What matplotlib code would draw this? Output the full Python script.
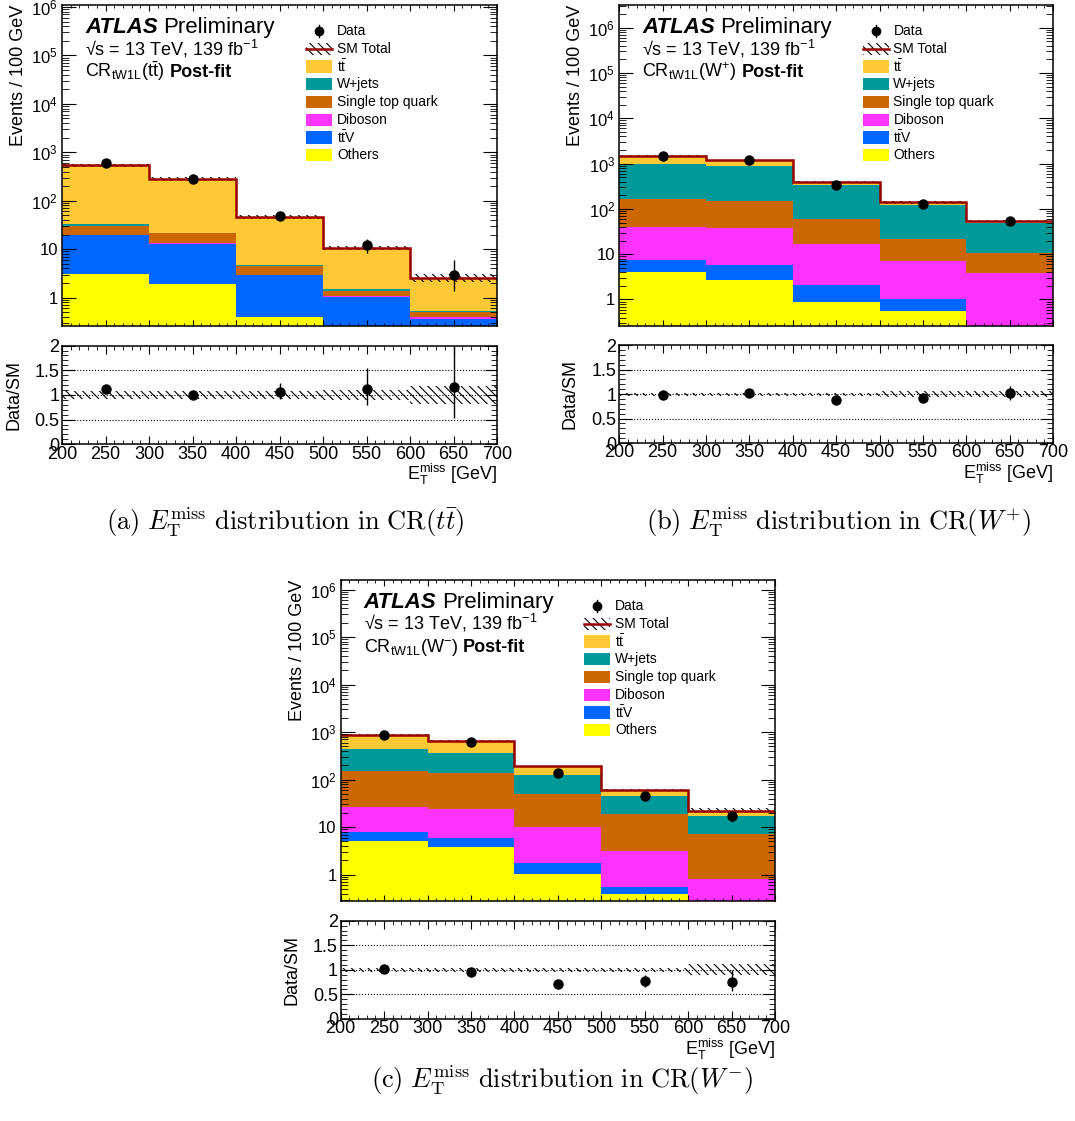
import math
import matplotlib
matplotlib.use("Agg")
import matplotlib.pyplot as plt
from matplotlib.patches import Rectangle
from matplotlib.ticker import LogLocator, MultipleLocator, FuncFormatter, NullFormatter

plt.rcParams['font.family'] = ['Liberation Sans', 'DejaVu Sans']
plt.rcParams['mathtext.fontset'] = 'custom'
plt.rcParams['mathtext.rm'] = 'Liberation Sans'
plt.rcParams['mathtext.it'] = 'Liberation Sans:italic'
plt.rcParams['mathtext.bf'] = 'Liberation Sans:bold'
plt.rcParams['hatch.linewidth'] = 0.8

# binning in MET (GeV)
met_edges = [200, 300, 400, 500, 600, 700]
met_centres = [250, 350, 450, 550, 650]

# CR(ttbar) post-fit yields
ttbar_tt = [505, 259, 41.2, 9.2, 2.06]
wjets_tt = [3.0, 0.7, 0.1, 0.13, 0.02]
singletop_tt = [10.3, 8.0, 1.65, 0.32, 0.12]
diboson_tt = [0.3, 0.2, 0.05, 0.03, 0.02]
ttv_tt = [16.7, 11.0, 2.5, 0.95, 0.27]
others_tt = [3.1, 1.92, 0.40, 0.10, 0.10]
data_tt = [600, 279, 49, 12, 3]
data_lo_tt = [24, 17, 7, 3.5, 1.6]
data_hi_tt = [25, 17, 8, 4.6, 3.0]
unc_tt = [0.085, 0.085, 0.085, 0.11, 0.18]

# CR(W+) post-fit yields
ttbar_wp = [477, 282, 50, 20, 5.2]
wjets_wp = [831, 750, 285, 97.8, 38.5]
singletop_wp = [129, 114, 41.8, 14.95, 6.95]
diboson_wp = [32.5, 33.0, 15.1, 6.25, 3.55]
ttv_wp = [3.4, 3.0, 1.2, 0.44, 0.10]
others_wp = [4.1, 2.7, 0.87, 0.56, 0.10]
data_wp = [1460, 1200, 344, 130, 55]
data_lo_wp = [38, 35, 18.5, 11.4, 7.4]
data_hi_wp = [39, 35, 19, 12, 8.4]
unc_wp = [0.03, 0.03, 0.03, 0.06, 0.06]

# CR(W-) post-fit yields
ttbar_wm = [428, 295, 64, 15.2, 5.4]
wjets_wm = [298, 228, 77, 25.6, 9.9]
singletop_wm = [123.6, 116, 40, 15.9, 6.3]
diboson_wm = [18.4, 18.0, 8.1, 2.56, 0.62]
ttv_wm = [2.9, 2.06, 0.72, 0.15, 0.10]
others_wm = [5.1, 3.8, 1.05, 0.39, 0.10]
data_wm = [888, 627, 137, 46, 17]
data_lo_wm = [30, 25, 11.7, 6.8, 4.1]
data_hi_wm = [31, 26, 12.7, 7.8, 5.2]
unc_wm = [0.04, 0.04, 0.04, 0.04, 0.11]

# legend labels / colours, top of the stack first
labels = ["t$\\bar{\\mathrm{t}}$", "W+jets", "Single top quark", "Diboson",
          "t$\\bar{\\mathrm{t}}$V", "Others"]
colours = ["#FFC935", "#009999", "#CC6600", "#FF33FF", "#0066FF", "#FFFF00"]
TOTAL_COLOUR = "#990000"


def log_label(v, pos):
    if v == 1:
        return "1"
    if v == 10:
        return "10"
    return "$10^{%d}$" % round(math.log10(v))


def text_run(ax, x, y, parts, gap=0.012):
    renderer = ax.figure.canvas.get_renderer()
    for s, kw in parts:
        t = ax.text(x, y, s, transform=ax.transAxes, va='baseline', ha='left', **kw)
        bb = t.get_window_extent(renderer=renderer)
        x = ax.transAxes.inverted().transform((bb.x1, bb.y0))[0] + gap


def draw_legend(ax):
    x0, x1, xt = 0.561, 0.621, 0.632
    top, step, h = 0.9190, 0.0553, 0.038
    # Data
    y = top
    ax.plot([(x0 + x1) / 2], [y], 'o', color='black', ms=6, transform=ax.transAxes)
    ax.plot([(x0 + x1) / 2] * 2, [y - h / 2, y + h / 2], color='black', lw=1,
            transform=ax.transAxes)
    ax.text(xt, y, "Data", transform=ax.transAxes, va='center', fontsize=10)
    # SM total
    y = top - step
    ax.add_patch(Rectangle((x0, y - h / 2), x1 - x0, h, transform=ax.transAxes,
                           facecolor='none', edgecolor='black', hatch='\\\\\\\\', lw=0))
    ax.plot([x0, x1], [y, y], color=TOTAL_COLOUR, lw=1.8, transform=ax.transAxes)
    ax.text(xt, y, "SM Total", transform=ax.transAxes, va='center', fontsize=10)
    for i, (lab, col) in enumerate(zip(labels, colours)):
        y = top - (i + 2) * step
        ax.add_patch(Rectangle((x0, y - h / 2), x1 - x0, h, transform=ax.transAxes,
                               facecolor=col, edgecolor='none'))
        ax.text(xt, y, lab, transform=ax.transAxes, va='center', fontsize=10)


def draw_panel(fig, main_rect, ratio_rect, stack, data, data_lo, data_hi, unc,
               ylim, region, ylab_x):
    ax = fig.add_axes(main_rect)
    rax = fig.add_axes(ratio_rect)

    # stack drawn from the bottom up
    base = [1e-3] * len(met_centres)
    for vals, col in zip(reversed(stack), reversed(colours)):
        top = [b + v for b, v in zip(base, vals)]
        ax.stairs(top, met_edges, baseline=base, fill=True, color=col, lw=0)
        base = top
    total = base

    lo = [t * (1 - u) for t, u in zip(total, unc)]
    hi = [t * (1 + u) for t, u in zip(total, unc)]
    ax.stairs(hi, met_edges, baseline=lo, fill=True, facecolor='none',
              edgecolor='black', hatch='\\\\\\\\', lw=0)
    ax.stairs(total, met_edges, baseline=None, color=TOTAL_COLOUR, lw=1.8)
    ax.errorbar(met_centres, data, yerr=[data_lo, data_hi], fmt='o', color='black',
                ms=6.5, elinewidth=1.0, capsize=0)

    ax.set_yscale('log')
    ax.set_xlim(200, 700)
    ax.set_ylim(*ylim)
    ax.yaxis.set_major_locator(LogLocator(base=10, numticks=20))
    ax.yaxis.set_minor_locator(LogLocator(base=10, subs=range(2, 10), numticks=20))
    ax.yaxis.set_major_formatter(FuncFormatter(log_label))
    ax.yaxis.set_minor_formatter(NullFormatter())
    ax.xaxis.set_major_locator(MultipleLocator(50))
    ax.xaxis.set_minor_locator(MultipleLocator(10))
    ax.tick_params(axis='x', labelbottom=False)
    ax.tick_params(which='both', direction='in', top=True, right=True)
    ax.tick_params(axis='y', which='major', length=10, labelsize=12, pad=3)
    ax.tick_params(axis='y', which='minor', length=5)
    ax.tick_params(axis='x', which='major', length=4.5)
    ax.tick_params(axis='x', which='minor', length=2.2)
    ax.set_ylabel("Events / 100 GeV", fontsize=13, loc='top')
    ax.yaxis.set_label_coords(ylab_x, 1.0)

    text_run(ax, 0.053, 0.913, [("ATLAS", dict(fontsize=16, fontweight='bold',
                                                 fontstyle='italic')),
                                ("Preliminary", dict(fontsize=16))], gap=0.012)
    ax.text(0.053, 0.844, "\u221as = 13 TeV, 139 fb$^{-1}$", transform=ax.transAxes,
            va='baseline', fontsize=13)
    text_run(ax, 0.053, 0.776, [("CR$_{\\mathrm{tW1L}}$(" + region + ")",
                                 dict(fontsize=13)),
                                ("Post-fit", dict(fontsize=13, fontweight='bold'))],
             gap=0.012)
    draw_legend(ax)

    # ratio panel
    ratio = [d / t for d, t in zip(data, total)]
    r_lo = [e / t for e, t in zip(data_lo, total)]
    r_hi = [e / t for e, t in zip(data_hi, total)]
    for v in (0.5, 1.0, 1.5):
        rax.axhline(v, ls=':', color='black', lw=0.8)
    rax.stairs([1 + u for u in unc], met_edges, baseline=[1 - u for u in unc],
               fill=True, facecolor='none', edgecolor='black', hatch='\\\\\\\\', lw=0)
    rax.errorbar(met_centres, ratio, yerr=[r_lo, r_hi], fmt='o', color='black',
                 ms=6.5, elinewidth=1.0, capsize=0)
    rax.set_xlim(200, 700)
    rax.set_ylim(0, 2)
    rax.yaxis.set_major_locator(MultipleLocator(0.5))
    rax.yaxis.set_minor_locator(MultipleLocator(0.1))
    rax.yaxis.set_major_formatter(FuncFormatter(lambda v, p: "%g" % v))
    rax.xaxis.set_major_locator(MultipleLocator(50))
    rax.xaxis.set_minor_locator(MultipleLocator(10))
    rax.tick_params(which='both', direction='in', top=True, right=True, labelsize=13)
    rax.tick_params(axis='y', which='major', length=9, pad=2)
    rax.tick_params(axis='y', which='minor', length=4.5)
    rax.tick_params(axis='x', which='major', length=6, pad=1)
    rax.tick_params(axis='x', which='minor', length=3)
    rax.set_ylabel("Data/SM", fontsize=13)
    rax.yaxis.set_label_coords(ylab_x - 0.012, 0.5)
    rax.set_xlabel("E$_{\\mathrm{T}}^{\\mathrm{miss}}$ [GeV]", fontsize=13, loc='right')
    rax.xaxis.set_label_coords(1.0, -0.18)

    for a in (ax, rax):
        for s in a.spines.values():
            s.set_linewidth(1.1)
    return ax, rax


fig = plt.figure(figsize=(10.75, 11.21), dpi=100)

draw_panel(fig, [0.0577, 0.7092, 0.4047, 0.2864], [0.0577, 0.6037, 0.4047, 0.0880],
           [ttbar_tt, wjets_tt, singletop_tt, diboson_tt, ttv_tt, others_tt],
           data_tt, data_lo_tt, data_hi_tt, unc_tt, (0.26, 1.1e6),
           "t$\\bar{\\mathrm{t}}$", -0.080)
draw_panel(fig, [0.5761, 0.7092, 0.4034, 0.2864], [0.5761, 0.6048, 0.4034, 0.0874],
           [ttbar_wp, wjets_wp, singletop_wp, diboson_wp, ttv_wp, others_wp],
           data_wp, data_lo_wp, data_hi_wp, unc_wp, (0.26, 3.2e6),
           "W$^{+}$", -0.081)
draw_panel(fig, [0.3169, 0.1963, 0.4040, 0.2864], [0.3169, 0.0910, 0.4040, 0.0877],
           [ttbar_wm, wjets_wm, singletop_wm, diboson_wm, ttv_wm, others_wm],
           data_wm, data_lo_wm, data_hi_wm, unc_wm, (0.28, 1.6e6),
           "W$^{-}$", -0.080)

captions = [
    (0.265, 0.5343, r"$\mathrm{(a)}\ E_{\mathrm{T}}^{\mathrm{miss}}\ \mathrm{distribution\ in\ CR}(t\bar{t})$"),
    (0.7795, 0.5343, r"$\mathrm{(b)}\ E_{\mathrm{T}}^{\mathrm{miss}}\ \mathrm{distribution\ in\ CR}(W^{+})$"),
    (0.523, 0.0366, r"$\mathrm{(c)}\ E_{\mathrm{T}}^{\mathrm{miss}}\ \mathrm{distribution\ in\ CR}(W^{-})$"),
]
for x, y, s in captions:
    fig.text(x, y, s, ha='center', va='center', fontsize=19, math_fontfamily='cm')

fig.savefig("out.png", dpi=100)
